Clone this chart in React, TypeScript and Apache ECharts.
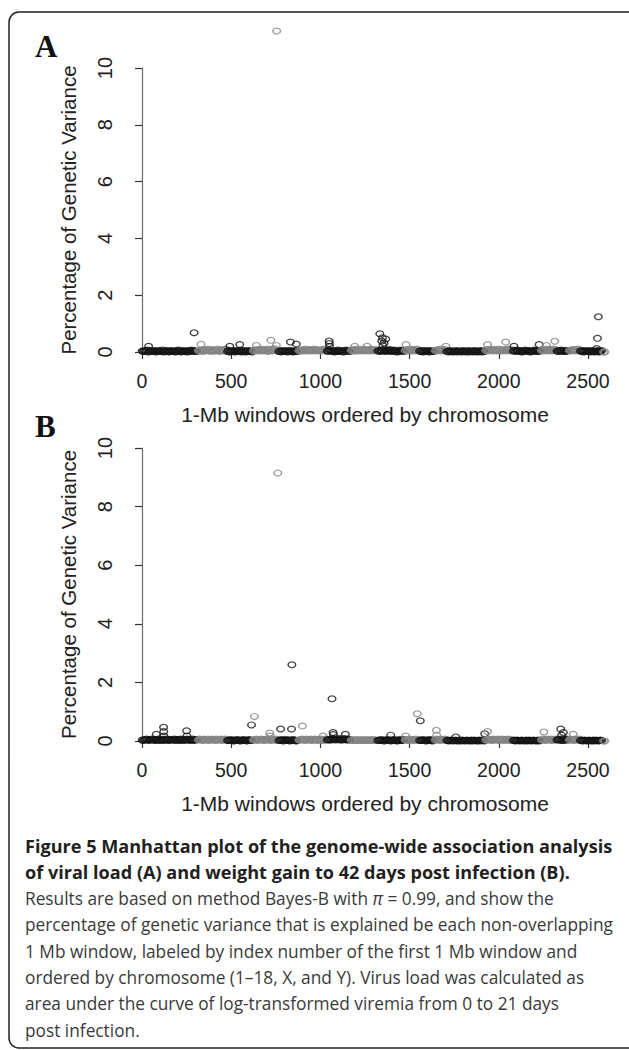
import React, { useEffect, useRef } from "react";
import * as echarts from "echarts";

// ---- Data ----
const CHROM_NAMES = ["1","2","3","4","5","6","7","8","9","10","11","12","13","14","15","16","17","18","X","Y"];
// first 1-Mb window index of each chromosome
const CHROM_STARTS = [1, 316, 479, 624, 768, 880, 1038, 1173, 1322, 1476, 1556, 1644, 1708, 1927, 2081, 2239, 2326, 2396, 2457, 2588];
const LAST_WINDOW = 2596;
const WINDOW_STEP = 6; // one band reading per 6 windows
const BAND_UNIT = 0.017; // each digit = 0.017 % of genetic variance

// estimated heights of the dense band (per chromosome, one digit per 6 windows)
const BAND_A = [
  "2131240312213021321402132013212031420213120312413221",
  "324315243624153242631534256",
  "130213201321402130213120",
  "243524362534261534273524",
  "120312130213201231",
  "32425362435243625342435263",
  "2143212031421230214321",
  "352426352436253425362435",
  "2314253142351324130214231",
  "3524362534263",
  "21302131203121",
  "3425362435",
  "120312021302120312013021203120213021",
  "3524364253426352435263425",
  "23142313021423130213412313",
  "35243625342635",
  "21324132132",
  "3425342635",
  "213021312031202130213",
  "00",
];
const BAND_B = [
  "2132431324231324132313242132324132314231324313241323",
  "242314232413242314232413242",
  "121312021312021312013121",
  "232413242313242314232413",
  "121302131202131201",
  "23242314232413243123241324",
  "2324253424352423532423",
  "131213121312131213121312",
  "1213120213120213120131213",
  "2312423132413",
  "12131202131202",
  "2423142324",
  "120121012101201210121012012101201210",
  "2324231423241324312324132",
  "12012101210120121012101201",
  "24231423241324",
  "23241313242",
  "2423142324",
  "120121012101201210121",
  "00",
];

// windows standing out of the band: [window, % of genetic variance]
const OUTLIERS_A: [number, number][] = [
  [37, 0.2], [292, 0.68], [331, 0.27], [492, 0.2], [548, 0.26], [641, 0.23], [723, 0.41],
  [753, 0.23], [755, 11.3], [832, 0.35], [865, 0.28], [1049, 0.39], [1050, 0.3], [1051, 0.2],
  [1193, 0.2], [1262, 0.2], [1333, 0.64], [1344, 0.39], [1348, 0.5], [1350, 0.23],
  [1357, 0.32], [1366, 0.46], [1480, 0.26], [1703, 0.2], [1937, 0.26], [2039, 0.35],
  [2085, 0.2], [2226, 0.26], [2267, 0.23], [2314, 0.38], [2548, 0.12], [2553, 0.48], [2558, 1.24],
];
const OUTLIERS_B: [number, number][] = [
  [80, 0.23], [121, 0.47], [122, 0.32], [123, 0.17], [250, 0.35], [252, 0.17], [614, 0.55],
  [630, 0.84], [716, 0.27], [718, 0.17], [761, 9.15], [777, 0.41], [838, 0.41], [840, 2.6],
  [899, 0.51], [1015, 0.17], [1065, 1.44], [1071, 0.29], [1073, 0.22], [1140, 0.23],
  [1394, 0.2], [1478, 0.17], [1543, 0.93], [1560, 0.69], [1650, 0.37], [1652, 0.2],
  [1759, 0.14], [1921, 0.25], [1937, 0.32], [2253, 0.31], [2347, 0.41], [2362, 0.29],
  [2352, 0.2], [2417, 0.23],
];

const X_MIN = 0, X_MAX = 2500, X_INTERVAL = 500;
const Y_MIN = 0, Y_MAX = 10, Y_INTERVAL = 2;

const X_TITLE = "1-Mb windows ordered by chromosome";
const Y_TITLE = "Percentage of Genetic Variance";
const PANEL_LABELS = ["A", "B"];

const CAPTION_BOLD = [
  "Figure 5 Manhattan plot of the genome-wide association analysis",
  "of viral load (A) and weight gain to 42 days post infection (B).",
];
const CAPTION_REGULAR = [
  "{r|Results are based on method Bayes-B with }{i|π}{r| = 0.99, and show the}",
  "percentage of genetic variance that is explained be each non-overlapping",
  "1 Mb window, labeled by index number of the first 1 Mb window and",
  "ordered by chromosome (1–18, X, and Y). Virus load was calculated as",
  "area under the curve of log-transformed viremia from 0 to 21 days",
  "post infection.",
];

// ---- Styles ----
const BLACK = "#141414";
const GRAY = "#858585";
const SANS = "'Liberation Sans', Arial, Helvetica, sans-serif";
const CAPTION_FONT = "'Open Sans', 'Noto Sans', sans-serif";
const BOLD_SIZE = 18.1;
const REG_SIZE = 17.3;

function chromIndexOf(w: number): number {
  let idx = 0;
  for (let k = 0; k < CHROM_STARTS.length; k++) if (w >= CHROM_STARTS[k]) idx = k;
  return idx;
}

function buildSeries(band: string[], outliers: [number, number][], gi: number) {
  return CHROM_NAMES.map((name, k) => {
    const start = CHROM_STARTS[k];
    const end = k < CHROM_STARTS.length - 1 ? CHROM_STARTS[k + 1] : LAST_WINDOW;
    const pts: [number, number][] = [];
    const s = band[k];
    for (let i = 0; i < s.length; i++) {
      const w = start + i * WINDOW_STEP;
      if (w >= end) break;
      pts.push([w, Number(s[i]) * BAND_UNIT]);
    }
    outliers.forEach((o) => {
      if (chromIndexOf(o[0]) === k) pts.push(o);
    });
    pts.sort((a, b) => a[0] - b[0]);
    const color = k % 2 === 0 ? BLACK : GRAY;
    return {
      type: "scatter",
      name: "chr" + name,
      xAxisIndex: gi,
      yAxisIndex: gi,
      data: pts,
      clip: false,
      silent: true,
      symbol: "circle",
      symbolSize: [7.6, 5.8],
      itemStyle: { color: "rgba(0,0,0,0)", borderColor: color, borderWidth: 1.3 },
      z: 2 + k * 0.01,
    };
  });
}

function xAxisCfg(gi: number) {
  return {
    gridIndex: gi,
    type: "value",
    min: X_MIN,
    max: X_MAX,
    interval: X_INTERVAL,
    offset: 12,
    axisLine: { show: true, lineStyle: { color: "#6a6a6a", width: 1.2 } },
    axisTick: { show: true, length: 7, lineStyle: { color: "#333", width: 1.2 } },
    axisLabel: {
      fontSize: 19.5, color: "#222", margin: 7, fontFamily: SANS,
      showMinLabel: true, showMaxLabel: true,
      formatter: (v: number) => String(v),
    },
    splitLine: { show: false },
    name: X_TITLE,
    nameLocation: "middle",
    nameGap: 40,
    nameTextStyle: { fontSize: 21, color: "#222", fontFamily: SANS },
  };
}

function yAxisCfg(gi: number) {
  return {
    gridIndex: gi,
    type: "value",
    min: Y_MIN,
    max: Y_MAX,
    interval: Y_INTERVAL,
    offset: 19,
    axisLine: { show: true, lineStyle: { color: "#6a6a6a", width: 1.2 } },
    axisTick: { show: true, length: 7, lineStyle: { color: "#333", width: 1.2 } },
    axisLabel: {
      fontSize: 20, color: "#222", margin: 8, rotate: 90, fontFamily: SANS,
      showMinLabel: true, showMaxLabel: true,
      formatter: (v: number) => String(v),
    },
    splitLine: { show: false },
    name: Y_TITLE,
    nameLocation: "middle",
    nameRotate: 90,
    nameGap: 44,
    nameTextStyle: { fontSize: 20.5, color: "#222", fontFamily: SANS },
  };
}

export default function App() {
  const ref = useRef<HTMLDivElement>(null);
  useEffect(() => {
    if (!ref.current) return;
    const chart = echarts.init(ref.current, undefined, { renderer: "svg" });
    const graphics: any[] = [
      {
        type: "rect",
        shape: { x: 9, y: 12, width: 660, height: 1036, r: 10 },
        style: { fill: "none", stroke: "#222", lineWidth: 1.5 },
        silent: true,
      },
      {
        type: "text",
        x: 35, y: 62,
        style: { text: PANEL_LABELS[0], font: "bold 31px 'Liberation Serif', 'Times New Roman', serif", fill: "#111", textVerticalAlign: "bottom" },
      },
      {
        type: "text",
        x: 35, y: 442,
        style: { text: PANEL_LABELS[1], font: "bold 31px 'Liberation Serif', 'Times New Roman', serif", fill: "#111", textVerticalAlign: "bottom" },
      },
    ];
    const LINE0 = 846, LH = 26.3;
    CAPTION_BOLD.forEach((t, i) => {
      graphics.push({
        type: "text",
        x: 25,
        y: LINE0 + i * LH,
        style: { text: t, fontFamily: CAPTION_FONT, fontWeight: "bold", fontSize: BOLD_SIZE, fill: "#231f20", textVerticalAlign: "middle" },
      });
    });
    CAPTION_REGULAR.forEach((t, i) => {
      graphics.push({
        type: "text",
        x: 25,
        y: LINE0 + (i + CAPTION_BOLD.length) * LH,
        style: {
          text: t,
          fontFamily: CAPTION_FONT,
          fontSize: REG_SIZE,
          fill: "#3a3a3a",
          textVerticalAlign: "middle",
          rich: {
            r: { fontFamily: CAPTION_FONT, fontSize: REG_SIZE, fill: "#3a3a3a" },
            i: { fontFamily: CAPTION_FONT, fontSize: REG_SIZE, fontStyle: "italic", fill: "#3a3a3a" },
          },
        },
      });
    });

    chart.setOption({
      animation: false,
      backgroundColor: "#fff",
      grid: [
        { left: 142, top: 68, width: 446, height: 284 },
        { left: 142, top: 448, width: 446, height: 293 },
      ],
      xAxis: [xAxisCfg(0), xAxisCfg(1)],
      yAxis: [yAxisCfg(0), yAxisCfg(1)],
      series: [...buildSeries(BAND_A, OUTLIERS_A, 0), ...buildSeries(BAND_B, OUTLIERS_B, 1)],
      graphic: graphics,
    });
    return () => chart.dispose();
  }, []);
  return (
    <div
      ref={ref}
      style={{ position: "absolute", left: 0, top: 0, width: 629, height: 1050, background: "#fff" }}
    />
  );
}
